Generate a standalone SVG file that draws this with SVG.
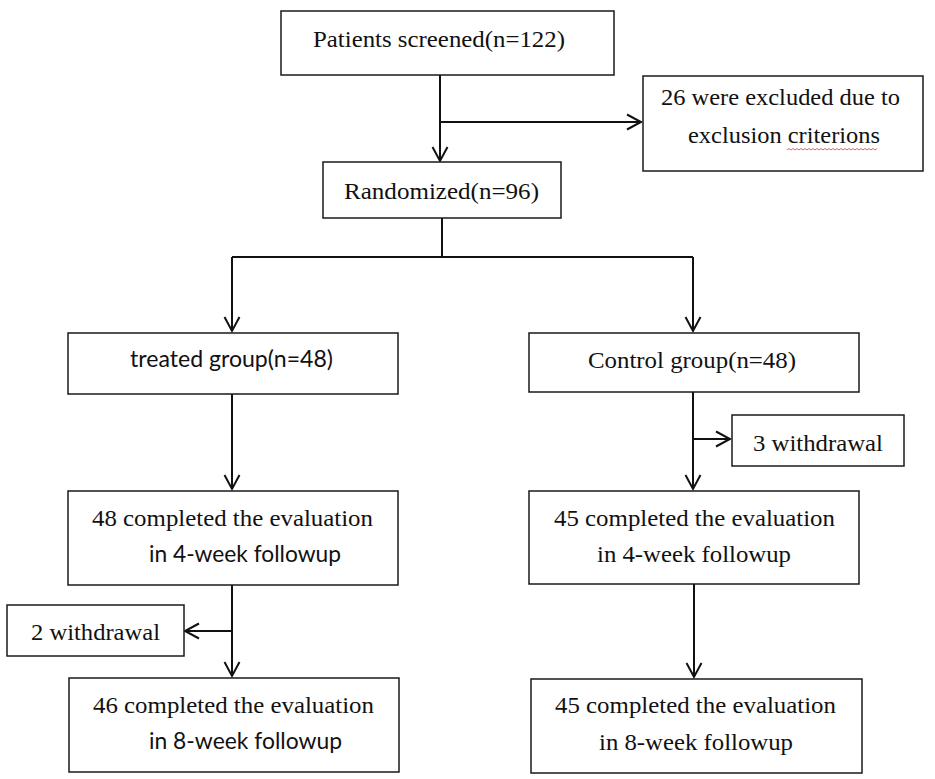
<svg xmlns="http://www.w3.org/2000/svg" width="935" height="779" viewBox="0 0 935 779">
<style>
.box{fill:#fff;stroke:#1a1a1a;stroke-width:1.5}
.ser{font-family:"Liberation Serif","Times New Roman",serif;font-size:23px;fill:#111}
.san{font-family:Lato,"Open Sans","Liberation Sans",sans-serif;font-size:23px;fill:#111}
.ln{fill:none;stroke:#111;stroke-width:2}
</style>
<defs>
<marker id="arr" markerUnits="userSpaceOnUse" markerWidth="20" markerHeight="20" viewBox="-16 -10 20 20" refX="0" refY="0" orient="auto">
<path d="M-14,-7.5 L0,0 L-14,7.5" fill="none" stroke="#111" stroke-width="2"/>
</marker>
</defs>
<rect width="935" height="779" fill="#fff"/>
<g id="connectors">
<line class="ln" x1="440" y1="75" x2="440" y2="161" marker-end="url(#arr)"/>
<line class="ln" x1="440" y1="122" x2="641" y2="122" marker-end="url(#arr)"/>
<polyline class="ln" points="442,218 442,257"/>
<polyline class="ln" points="232,257 693,257"/>
<line class="ln" x1="232" y1="257" x2="232" y2="331" marker-end="url(#arr)"/>
<line class="ln" x1="693" y1="257" x2="693" y2="331" marker-end="url(#arr)"/>
<line class="ln" x1="232" y1="394" x2="232" y2="489" marker-end="url(#arr)"/>
<line class="ln" x1="693" y1="392" x2="693" y2="489" marker-end="url(#arr)"/>
<line class="ln" x1="693" y1="439" x2="730" y2="439" marker-end="url(#arr)"/>
<line class="ln" x1="232" y1="585" x2="232" y2="676" marker-end="url(#arr)"/>
<line class="ln" x1="232" y1="631" x2="185" y2="631" marker-end="url(#arr)"/>
<line class="ln" x1="694" y1="584" x2="694" y2="677" marker-end="url(#arr)"/>
</g>
<g id="screened">
<rect class="box" x="281" y="11" width="333" height="64"/>
<text class="ser" x="313" y="47" textLength="252" lengthAdjust="spacingAndGlyphs">Patients screened(n=122)</text>
</g>
<g id="excluded">
<rect class="box" x="643" y="76" width="280" height="95"/>
<text class="ser" x="661" y="105" textLength="239" lengthAdjust="spacingAndGlyphs">26 were excluded due to</text>
<text class="ser" x="688" y="143" textLength="192" lengthAdjust="spacingAndGlyphs">exclusion criterions</text>
<path d="M787,150 l2,-1.5 l2,1.5 l2,-1.5 l2,1.5 l2,-1.5 l2,1.5 l2,-1.5 l2,1.5 l2,-1.5 l2,1.5 l2,-1.5 l2,1.5 l2,-1.5 l2,1.5 l2,-1.5 l2,1.5 l2,-1.5 l2,1.5 l2,-1.5 l2,1.5 l2,-1.5 l2,1.5 l2,-1.5 l2,1.5 l2,-1.5 l2,1.5 l2,-1.5 l2,1.5 l2,-1.5 l2,1.5 l2,-1.5 l2,1.5 l2,-1.5 l2,1.5 l2,-1.5 l2,1.5 l2,-1.5 l2,1.5 l2,-1.5 l2,1.5 l2,-1.5 l2,1.5 l2,-1.5 l2,1.5 l2,-1.5" fill="none" stroke="#d04040" stroke-width="0.8"/>
</g>
<g id="randomized">
<rect class="box" x="323" y="162" width="238" height="56"/>
<text class="ser" x="344" y="199" textLength="195" lengthAdjust="spacingAndGlyphs">Randomized(n=96)</text>
</g>
<g id="treated">
<rect class="box" x="68" y="333" width="330" height="61"/>
<text class="san" x="130" y="367" textLength="203" lengthAdjust="spacingAndGlyphs">treated group(n=48)</text>
</g>
<g id="control">
<rect class="box" x="529" y="333" width="330" height="59"/>
<text class="ser" x="588" y="368" textLength="208" lengthAdjust="spacingAndGlyphs">Control group(n=48)</text>
</g>
<g id="withdrawal3">
<rect class="box" x="732" y="415" width="172" height="51"/>
<text class="ser" x="753" y="451" textLength="130" lengthAdjust="spacingAndGlyphs">3 withdrawal</text>
</g>
<g id="treated4w">
<rect class="box" x="68" y="491" width="330" height="94"/>
<text class="ser" x="92" y="526" textLength="281" lengthAdjust="spacingAndGlyphs">48 completed the evaluation</text>
<text class="san" x="149" y="562" textLength="192" lengthAdjust="spacingAndGlyphs">in 4-week followup</text>
</g>
<g id="control4w">
<rect class="box" x="529" y="491" width="330" height="93"/>
<text class="ser" x="554" y="526" textLength="281" lengthAdjust="spacingAndGlyphs">45 completed the evaluation</text>
<text class="ser" x="597" y="562" textLength="194" lengthAdjust="spacingAndGlyphs">in 4-week followup</text>
</g>
<g id="withdrawal2">
<rect class="box" x="7" y="605" width="177" height="51"/>
<text class="ser" x="31" y="640" textLength="129" lengthAdjust="spacingAndGlyphs">2 withdrawal</text>
</g>
<g id="treated8w">
<rect class="box" x="69" y="678" width="330" height="94"/>
<text class="ser" x="93" y="713" textLength="281" lengthAdjust="spacingAndGlyphs">46 completed the evaluation</text>
<text class="san" x="149" y="749" textLength="193" lengthAdjust="spacingAndGlyphs">in 8-week followup</text>
</g>
<g id="control8w">
<rect class="box" x="531" y="679" width="331" height="94"/>
<text class="ser" x="555" y="713" textLength="281" lengthAdjust="spacingAndGlyphs">45 completed the evaluation</text>
<text class="ser" x="599" y="750" textLength="194" lengthAdjust="spacingAndGlyphs">in 8-week followup</text>
</g>
</svg>
